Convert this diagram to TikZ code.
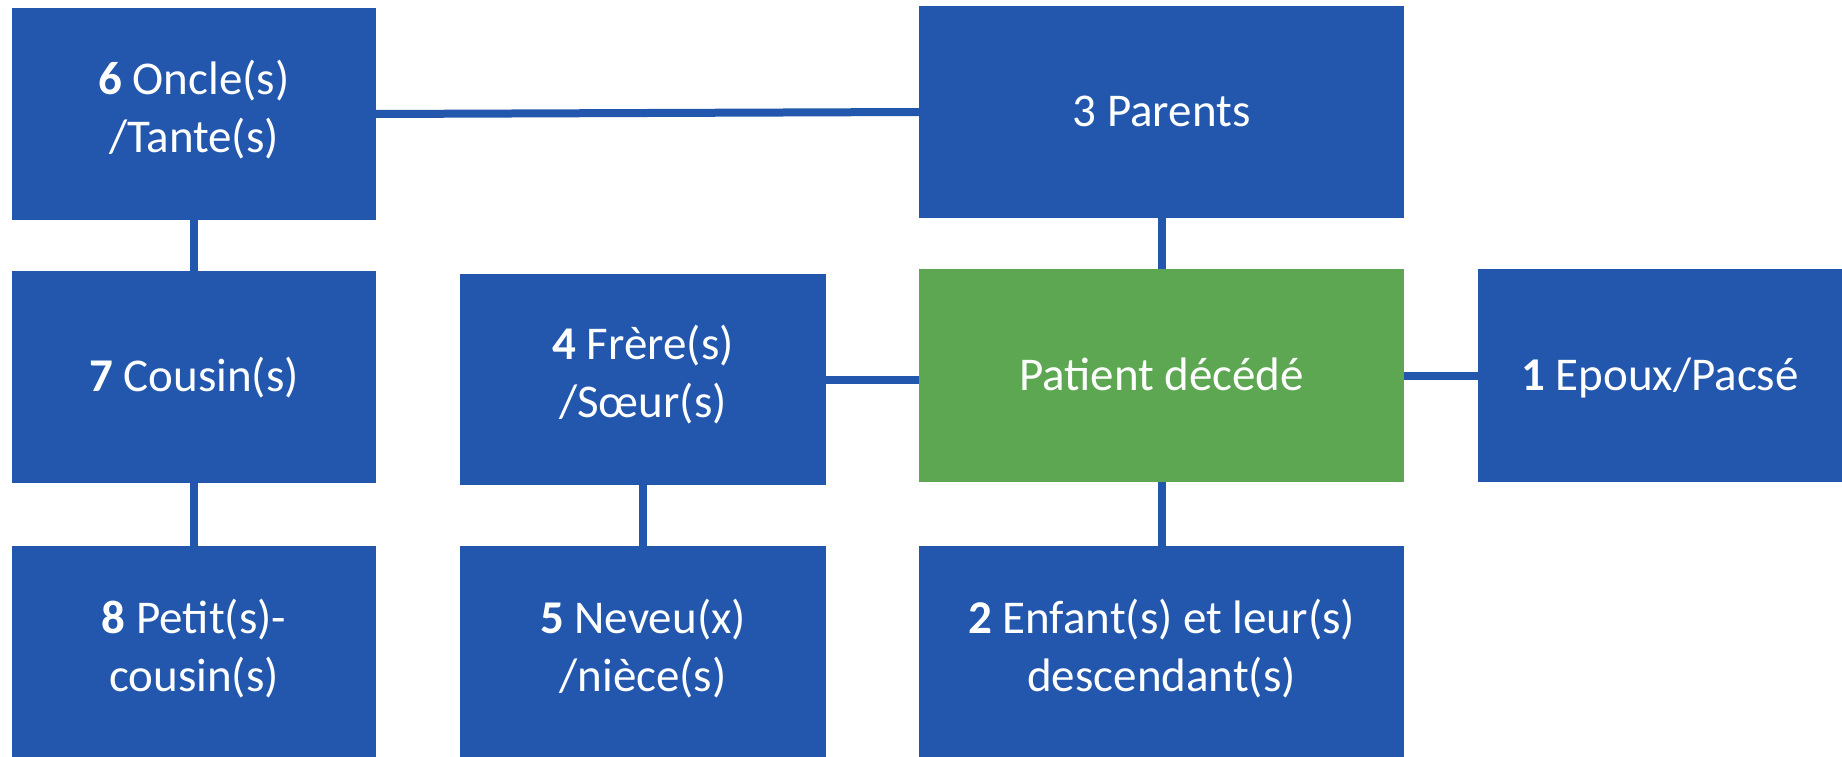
\documentclass[tikz,border=0pt]{standalone}
\usepackage{fontspec}
\setmainfont{Carlito}
\definecolor{boxblue}{HTML}{2257AD}
\definecolor{boxgreen}{HTML}{5DA752}
\tikzset{
  famille/.style={fill=boxblue, text=white, inner sep=0pt, outer sep=0pt, align=center,
    font=\fontsize{47}{58}\selectfont,
    execute at begin node={\rule{0pt}{45pt}},
    execute at end node={\rule[-15.5pt]{0pt}{0pt}}},
  defunt/.style={famille, fill=boxgreen},
  lien/.style={draw=boxblue, line width=8pt, line cap=butt}
}
\begin{document}
\begin{tikzpicture}[x=1pt,y=-1pt]
\useasboundingbox (0,0) rectangle (1842,757);
\fill[white] (0,0) rectangle (1842,757);
\node[famille, minimum width=364pt, minimum height=212pt] (oncle) at (194,114) {\textbf{6} Oncle(s)\\/Tante(s)};
\node[famille, minimum width=485pt, minimum height=212pt] (parents) at (1161.5,112) {3 Parents};
\node[famille, minimum width=364pt, minimum height=212pt] (cousin) at (194,377) {\textbf{7} Cousin(s)};
\node[famille, minimum width=366pt, minimum height=211pt] (frere) at (643,379.5) {\textbf{4} Frère(s)\\/Sœur(s)};
\node[defunt, minimum width=485pt, minimum height=213pt] (patient) at (1161.5,375.5) {Patient décédé};
\node[famille, minimum width=364pt, minimum height=213pt] (epoux) at (1660,375.5) {\textbf{1} Epoux/Pacsé};
\node[famille, minimum width=364pt, minimum height=214pt] (petit) at (194,653) {\textbf{8} Petit(s)-\\cousin(s)};
\node[famille, minimum width=366pt, minimum height=214pt] (neveu) at (643,653) {\textbf{5} Neveu(x)\\/nièce(s)};
\node[famille, minimum width=485pt, minimum height=214pt] (enfant) at (1161.5,653) {\textbf{2} Enfant(s) et leur(s)\\descendant(s)};
\draw[lien] (oncle.east) -- (parents.west);
\draw[lien] (oncle.south) -- (cousin.north);
\draw[lien] (cousin.south) -- (petit.north);
\draw[lien] (frere.south) -- (neveu.north);
\draw[lien] (frere.east) -- (frere.east -| patient.west);
\draw[lien] (parents.south) -- (patient.north);
\draw[lien] (patient.south) -- (enfant.north);
\draw[lien] (patient.east) -- (epoux.west);
\end{tikzpicture}
\end{document}
